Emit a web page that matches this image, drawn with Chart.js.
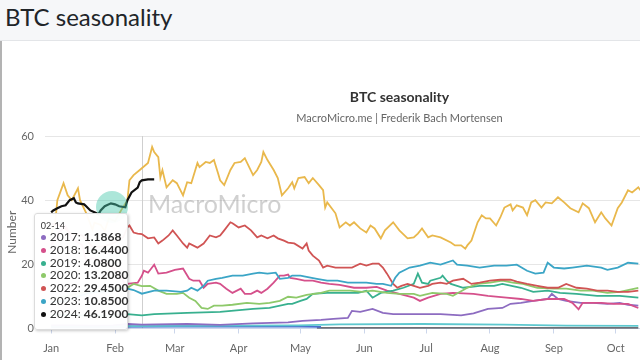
<!DOCTYPE html>
<html>
<head>
<meta charset="utf-8">
<script src="https://cdn.jsdelivr.net/npm/chart.js@4.4.1/dist/chart.umd.min.js"></script>
<style>
  html, body { margin: 0; padding: 0; width: 640px; height: 360px; overflow: hidden; background: #fff; font-family: Lato, "Noto Sans", sans-serif; }
  #header { position: absolute; left: 0; top: 0; width: 640px; height: 40px; background: #f6f7f9; border-bottom: 1px solid #e3e5e8; }
  #header h1 { position: absolute; left: 5px; top: 5px; margin: 0; font-size: 24px; line-height: 24px; font-weight: 400; color: #212529; }
  #frame { position: absolute; left: 0; top: 41px; width: 640px; height: 319px; overflow: hidden; }
  #edge { position: absolute; left: 0; top: 41px; width: 2px; height: 319px; background: #b3b3b3; }
  #wrap { position: absolute; left: 0; top: 0; width: 812px; height: 328px; }
  #tip { position: absolute; width: 94px; box-sizing: border-box; padding: 6px 4px 8px 6px; background: rgba(255,255,255,0.96);
         border: 1px solid #dcdcdc; border-radius: 3px; box-shadow: 1px 1px 3px rgba(0,0,0,0.22); color: #333; pointer-events: none; opacity: 0; }
  .tt-head { font-size: 9px; line-height: 11px; }
  .tt-row { font-size: 12px; line-height: 12.8px; white-space: nowrap; }
  .tt-dot { display: inline-block; width: 5px; height: 5px; border-radius: 50%; margin-right: 4px; vertical-align: 1px; }
</style>
</head>
<body>
<div id="header"><h1>BTC seasonality</h1></div>
<div id="frame">
  <div id="wrap">
    <canvas id="chart" width="812" height="328"></canvas>
    <div id="tip"></div>
  </div>
</div>
<div id="edge"></div>
<script>
const monthStarts = [0, 31, 60, 91, 121, 152, 182, 213, 244, 274, 305, 335];
const monthLabels = ["Jan", "Feb", "Mar", "Apr", "May", "Jun", "Jul", "Aug", "Sep", "Oct", "Nov", "Dec"];
const yTicks = [0, 20, 40, 60];
const hoverDay = 44;

// [day of year, value]
const btc2014 = [[129, 0.1], [200, 0.1], [285, 0.1]];
const btc2015 = [[0, 0.5], [30, 0.5], [60, 0.6], [90, 0.6], [120, 0.6], [131, 0.5]];
const btc2016 = [[0, 0.7], [60, 0.8], [120, 1.0], [140, 1.3], [180, 1.4], [220, 1.2], [250, 0.9], [285, 0.8]];
const btc2017 = [[0, 1.0], [10, 1.0], [20, 0.9], [30, 1.0], [37, 1.4], [44, 1.1868], [66, 1.4], [82, 1.1], [98, 1.6], [115, 1.9],
  [122, 2.4], [131, 2.7], [137, 3.0], [144, 3.3], [146, 5.5], [150, 5.2], [156, 6.1], [161, 4.9], [166, 4.5], [173, 4.5],
  [179, 4.5], [189, 4.5], [199, 4.1], [205, 4.7], [212, 6.1], [219, 6.4], [223, 7.7], [228, 8.0], [234, 8.6], [241, 9.2],
  [243, 10.8], [246, 9.2], [250, 8.6], [257, 8.0], [263, 8.0], [270, 7.7], [276, 8.0], [280, 7.4], [285, 7.1]];
const btc2018 = [[0, 26], [4, 30], [7, 32], [10, 28], [15, 26], [17, 21], [20, 22], [25, 21], [30, 19], [34, 16], [36, 13.5],
  [37, 13.9], [42, 14.3], [44, 16.44], [45, 18.0], [47, 17.4], [50, 19.9], [52, 17.1], [56, 17.4], [60, 18.3], [64, 18.7],
  [67, 15.5], [69, 14.9], [72, 14.9], [74, 12.7], [76, 13.9], [80, 14.3], [82, 13.9], [85, 12.4], [88, 11.1], [92, 12.4],
  [94, 10.8], [97, 10.8], [100, 11.8], [102, 11.1], [105, 12.4], [108, 14.3], [111, 16.5], [113, 16.5], [115, 16.8], [116, 15.8],
  [119, 15.5], [123, 14.9], [127, 14.9], [131, 14.3], [135, 13.9], [140, 13.6], [147, 12.7], [153, 12.7], [158, 13.0], [163, 11.8],
  [169, 10.8], [176, 9.6], [179, 8.6], [183, 9.6], [189, 10.8], [195, 11.1], [205, 10.8], [212, 10.2], [221, 9.6], [228, 9.2],
  [234, 8.6], [241, 9.2], [249, 9.2], [253, 8.0], [256, 6.0], [258, 8.0], [267, 8.0], [273, 7.7], [280, 7.7], [285, 6.4]];
const btc2019 = [[0, 4.3], [10, 4.2], [20, 4.0], [30, 3.9], [37, 4.5], [44, 4.08], [50, 4.5], [66, 4.9], [82, 5.2], [98, 6.1],
  [106, 6.4], [115, 7.7], [117, 7.7], [121, 8.6], [124, 9.2], [127, 10.8], [134, 11.1], [140, 11.1], [149, 11.1], [153, 11.8],
  [156, 9.6], [160, 11.1], [166, 11.8], [171, 12.7], [176, 13.9], [178, 17.1], [180, 14.3], [183, 13.9], [184, 14.9], [189, 15.8],
  [190, 16.5], [192, 14.9], [194, 13.9], [197, 13.3], [200, 12.7], [208, 13.3], [215, 13.3], [219, 13.9], [228, 12.7], [234, 11.4],
  [241, 11.8], [247, 11.1], [255, 10.8], [265, 10.2], [276, 10.2], [285, 9.6]];
const btc2020 = [[0, 9.2], [7, 10.0], [14, 11.1], [21, 11.5], [28, 11.9], [34, 12.9], [37, 12.7], [40, 13.9], [44, 13.208], [48, 13.3],
  [52, 11.8], [56, 10.8], [61, 10.8], [64, 11.1], [67, 9.6], [70, 8.6], [73, 6.4], [76, 6.1], [79, 7.1], [83, 7.1],
  [88, 7.4], [95, 8.0], [101, 7.7], [106, 8.0], [111, 8.6], [115, 9.9], [119, 9.6], [124, 10.5], [131, 11.1], [135, 11.8],
  [140, 11.8], [145, 11.8], [151, 11.4], [156, 11.8], [163, 11.1], [169, 10.8], [176, 10.8], [179, 10.2], [185, 11.1], [192, 10.8],
  [195, 10.2], [202, 12.7], [207, 13.9], [213, 14.3], [219, 14.9], [224, 14.3], [229, 13.9], [236, 12.7], [244, 12.4], [250, 12.4],
  [257, 11.8], [263, 11.8], [270, 11.1], [276, 11.4], [285, 12.7]];
const btc2021 = [[0, 29.4], [2, 33.5], [3, 40.0], [6, 45.3], [8, 41.5], [10, 40.0], [13, 43.7], [14, 40.0], [17, 36.0], [20, 30.8],
  [21, 33.0], [24, 32.3], [26, 30.4], [28, 34.3], [31, 33.5], [34, 36.9], [37, 40.0], [38, 46.2], [40, 47.8], [43, 49.4],
  [47, 51.6], [49, 56.6], [50, 55.0], [52, 53.4], [53, 47.1], [54, 49.4], [56, 44.0], [59, 46.2], [61, 45.3], [64, 41.5],
  [66, 45.6], [68, 45.3], [71, 51.6], [72, 50.3], [75, 51.9], [77, 51.6], [79, 52.5], [81, 48.4], [82, 46.2], [84, 44.7],
  [87, 49.4], [89, 51.6], [92, 51.9], [94, 53.1], [98, 47.8], [100, 49.4], [102, 51.9], [103, 55.0], [105, 52.5], [108, 49.4],
  [110, 46.9], [112, 41.5], [115, 43.7], [117, 45.6], [118, 43.7], [120, 46.9], [123, 47.2], [125, 45.3], [127, 46.9], [130, 44.7],
  [132, 43.1], [133, 37.7], [134, 39.3], [138, 35.9], [140, 31.5], [143, 33.1], [145, 32.1], [147, 33.1], [150, 31.2], [153, 29.9],
  [155, 32.1], [157, 31.2], [160, 28.1], [162, 30.6], [166, 33.1], [169, 30.6], [173, 28.1], [176, 28.4], [178, 29.6], [180, 31.2],
  [183, 28.4], [185, 29.0], [189, 28.4], [194, 26.8], [196, 25.9], [199, 25.9], [201, 24.9], [202, 25.9], [204, 27.4], [207, 33.1],
  [209, 35.3], [211, 34.3], [213, 34.3], [216, 32.1], [218, 34.6], [220, 37.7], [223, 38.7], [224, 36.8], [226, 38.4], [229, 37.7],
  [231, 35.3], [233, 39.3], [235, 40.0], [238, 37.7], [240, 39.3], [243, 39.0], [246, 40.9], [249, 39.3], [252, 37.5], [256, 36.2],
  [258, 39.0], [261, 37.5], [264, 33.1], [267, 36.2], [269, 34.3], [272, 32.1], [275, 37.5], [277, 39.3], [280, 43.1], [282, 42.4],
  [285, 44.0], [286, 43.1]];
const btc2022 = [[0, 32.6], [5, 32.0], [10, 29.5], [15, 29.0], [20, 25.5], [25, 25.5], [30, 26.5], [35, 28.5], [37, 31.5], [38, 32.1],
  [40, 29.9], [42, 29.6], [44, 29.45], [45, 29.0], [47, 28.1], [50, 28.4], [52, 26.5], [54, 27.4], [57, 29.0], [59, 30.6],
  [61, 29.0], [64, 26.5], [66, 25.2], [67, 26.5], [71, 25.2], [74, 26.5], [77, 29.0], [80, 28.4], [82, 29.0], [84, 30.6],
  [87, 33.1], [88, 32.8], [91, 31.5], [94, 32.1], [97, 30.6], [100, 28.4], [102, 29.0], [105, 28.1], [108, 29.0], [110, 28.1],
  [113, 27.4], [115, 26.8], [118, 26.5], [122, 24.9], [124, 26.5], [125, 24.3], [127, 22.7], [130, 21.2], [132, 19.0], [134, 19.6],
  [138, 19.0], [142, 19.0], [146, 19.0], [150, 20.2], [153, 19.6], [156, 20.2], [159, 20.2], [161, 19.0], [163, 17.1], [166, 13.9],
  [168, 12.7], [170, 13.3], [173, 13.9], [176, 13.3], [179, 12.7], [183, 13.3], [185, 13.9], [189, 14.3], [192, 13.9], [195, 14.9],
  [200, 15.5], [204, 13.9], [208, 14.3], [213, 14.9], [218, 15.2], [223, 15.2], [226, 14.6], [231, 13.9], [236, 13.3], [241, 12.7],
  [246, 12.7], [250, 13.9], [255, 12.7], [260, 12.4], [265, 11.8], [270, 11.8], [275, 11.4], [280, 11.4], [285, 11.8]];
const btc2023 = [[0, 8.2], [7, 8.5], [13, 10.0], [20, 11.3], [28, 11.6], [34, 12.2], [37, 12.4], [40, 12.0], [44, 10.85], [50, 11.8],
  [56, 11.8], [63, 11.4], [66, 11.8], [68, 12.7], [71, 11.8], [74, 13.3], [76, 14.9], [80, 15.5], [83, 15.8], [88, 16.5],
  [93, 16.5], [98, 17.1], [101, 17.4], [105, 17.1], [109, 17.4], [111, 15.5], [115, 15.8], [117, 16.5], [121, 16.5], [124, 16.1],
  [129, 15.5], [134, 14.9], [139, 14.9], [144, 14.3], [149, 14.3], [153, 14.3], [158, 13.9], [161, 13.9], [165, 13.3], [167, 15.8],
  [169, 17.4], [174, 19.0], [179, 19.6], [184, 20.5], [189, 19.9], [195, 21.2], [197, 19.9], [202, 19.6], [208, 19.0], [215, 19.6],
  [221, 19.6], [226, 19.9], [231, 18.0], [235, 17.1], [239, 17.4], [241, 20.5], [244, 19.0], [249, 18.7], [253, 19.0], [260, 19.6],
  [267, 19.0], [270, 18.3], [275, 19.0], [280, 20.5], [285, 20.2]];
const btc2024 = [[0, 36.2], [1, 36.8], [3, 37.5], [5, 38.1], [7, 38.4], [9, 40.0], [11, 40.6], [12, 39.3], [13, 39.0], [16, 38.7],
  [17, 38.1], [19, 36.8], [21, 36.2], [23, 35.6], [24, 36.8], [26, 38.1], [29, 39.0], [31, 38.7], [33, 38.1], [36, 37.8],
  [37, 40.0], [39, 42.4], [42, 43.9], [43, 45.6], [44, 46.19], [47, 46.5], [50, 46.5]];

const seriesNames = ["2014", "2015", "2016", "2017", "2018", "2019", "2020", "2021", "2022", "2023", "2024"];
const seriesValues = [btc2014, btc2015, btc2016, btc2017, btc2018, btc2019, btc2020, btc2021, btc2022, btc2023, btc2024];
const seriesColors = ["#3f3f46", "#4a6fd0", "#5ec8cf", "#8d6cc1", "#d5508b", "#38b08f", "#8ec96a", "#e9b84c", "#d05454", "#3ba5c6", "#111111"];
const tooltipSeries = ["2017", "2018", "2019", "2020", "2022", "2023", "2024"];

function dayLabel(day) {
    let m = 0;
    while (m < monthStarts.length - 1 && monthStarts[m + 1] <= day) m++;
    const d = day - monthStarts[m] + 1;
    return String(m + 1).padStart(2, "0") + "-" + String(d).padStart(2, "0");
}

function drawTip(context) {
    const { chart, tooltip } = context;
    const tip = document.getElementById("tip");
    if (tooltip.opacity === 0) { tip.style.opacity = 0; return; }
    let html = `<div class="tt-head">${tooltip.title[0]}</div>`;
    for (const p of tooltip.dataPoints) {
        html += `<div class="tt-row"><span class="tt-dot" style="background:${p.dataset.borderColor}"></span>${p.dataset.label}: <b>${p.parsed.y.toFixed(4)}</b></div>`;
    }
    tip.innerHTML = html;
    tip.style.opacity = 1;
    tip.style.left = (tooltip.caretX - 14 - tip.offsetWidth) + "px";
    tip.style.top = (chart.chartArea.bottom + 1.5 - tip.offsetHeight) + "px";
}

const decor = {
    id: "decor",
    beforeDatasetsDraw(chart) {
        const { ctx, chartArea, scales } = chart;
        const x = Math.round(scales.x.getPixelForValue(hoverDay)) + 0.5;
        ctx.save();
        ctx.strokeStyle = "#cfcfcf";
        ctx.lineWidth = 1;
        ctx.beginPath();
        ctx.moveTo(x, chartArea.top);
        ctx.lineTo(x, chartArea.bottom);
        ctx.stroke();
        ctx.restore();
    },
    afterDatasetsDraw(chart) {
        const { ctx } = chart;
        ctx.save();
        ctx.fillStyle = "rgba(70, 200, 170, 0.45)";
        ctx.beginPath();
        ctx.arc(112, 166, 16, 0, Math.PI * 2);
        ctx.fill();
        ctx.fillStyle = "rgba(150, 150, 150, 0.45)";
        ctx.font = "25px Lato";
        ctx.textBaseline = "middle";
        ctx.fillText("MacroMicro", 148, 164);
        ctx.restore();
    }
};

function displayChart() {
    const chartElement = document.getElementById("chart");
    const datasets = seriesNames.map((name, i) => ({
        label: name,
        data: seriesValues[i].map(([d, v]) => ({ x: d, y: v })),
        borderColor: seriesColors[i],
        backgroundColor: seriesColors[i],
        borderWidth: name === "2024" ? 2.2 : 1.8,
        pointRadius: 0,
        tension: 0,
        order: seriesNames.length - i
    }));

    const config = {
        type: "line",
        data: { datasets: datasets },
        plugins: [decor],
        options: {
            responsive: false,
            devicePixelRatio: 1,
            animation: false,
            events: [],
            layout: { padding: { left: 0, right: 13, top: 0, bottom: 6.3 } },
            scales: {
                x: {
                    type: "linear",
                    min: -3,
                    max: 363,
                    afterBuildTicks(scale) { scale.ticks = monthStarts.map(v => ({ value: v })); },
                    ticks: {
                        autoSkip: false,
                        maxRotation: 0,
                        padding: 8,
                        color: "#666",
                        font: { family: "Lato", size: 11 },
                        callback: (value, index) => monthLabels[index]
                    },
                    grid: { drawOnChartArea: false, drawTicks: true, tickLength: 5, color: "#ccd6eb" },
                    border: { color: "#ccd6eb" }
                },
                y: {
                    min: 0,
                    max: 60,
                    afterBuildTicks(scale) { scale.ticks = yTicks.map(v => ({ value: v })); },
                    afterFit(scale) { scale.width = 45; },
                    ticks: { padding: 11, color: "#666", font: { family: "Lato", size: 11 } },
                    grid: { color: "#e6e6e6", drawTicks: false },
                    border: { display: false },
                    title: { display: true, text: "Number", color: "#666", font: { family: "Lato", size: 12 }, padding: { top: 5, bottom: 0 } }
                }
            },
            plugins: {
                legend: { display: false },
                title: {
                    display: true,
                    text: "BTC seasonality",
                    color: "#333",
                    font: { family: "Lato", size: 14, weight: "bold" },
                    padding: { top: 48, bottom: 2 }
                },
                subtitle: {
                    display: true,
                    text: "MacroMicro.me | Frederik Bach Mortensen",
                    color: "#666",
                    font: { family: "Lato", size: 11 },
                    padding: { top: 3.6, bottom: 11.4 }
                },
                tooltip: {
                    enabled: false,
                    external: drawTip,
                    callbacks: { title: (items) => dayLabel(items[0].parsed.x) }
                }
            }
        }
    };
    const chart = new Chart(chartElement, config);

    const active = tooltipSeries.map(name => {
        const datasetIndex = seriesNames.indexOf(name);
        const index = seriesValues[datasetIndex].findIndex(p => p[0] === hoverDay);
        return { datasetIndex, index };
    });
    chart.tooltip.setActiveElements(active, { x: chart.scales.x.getPixelForValue(hoverDay), y: 200 });
    chart.update();
}
displayChart();
</script>
</body>
</html>
